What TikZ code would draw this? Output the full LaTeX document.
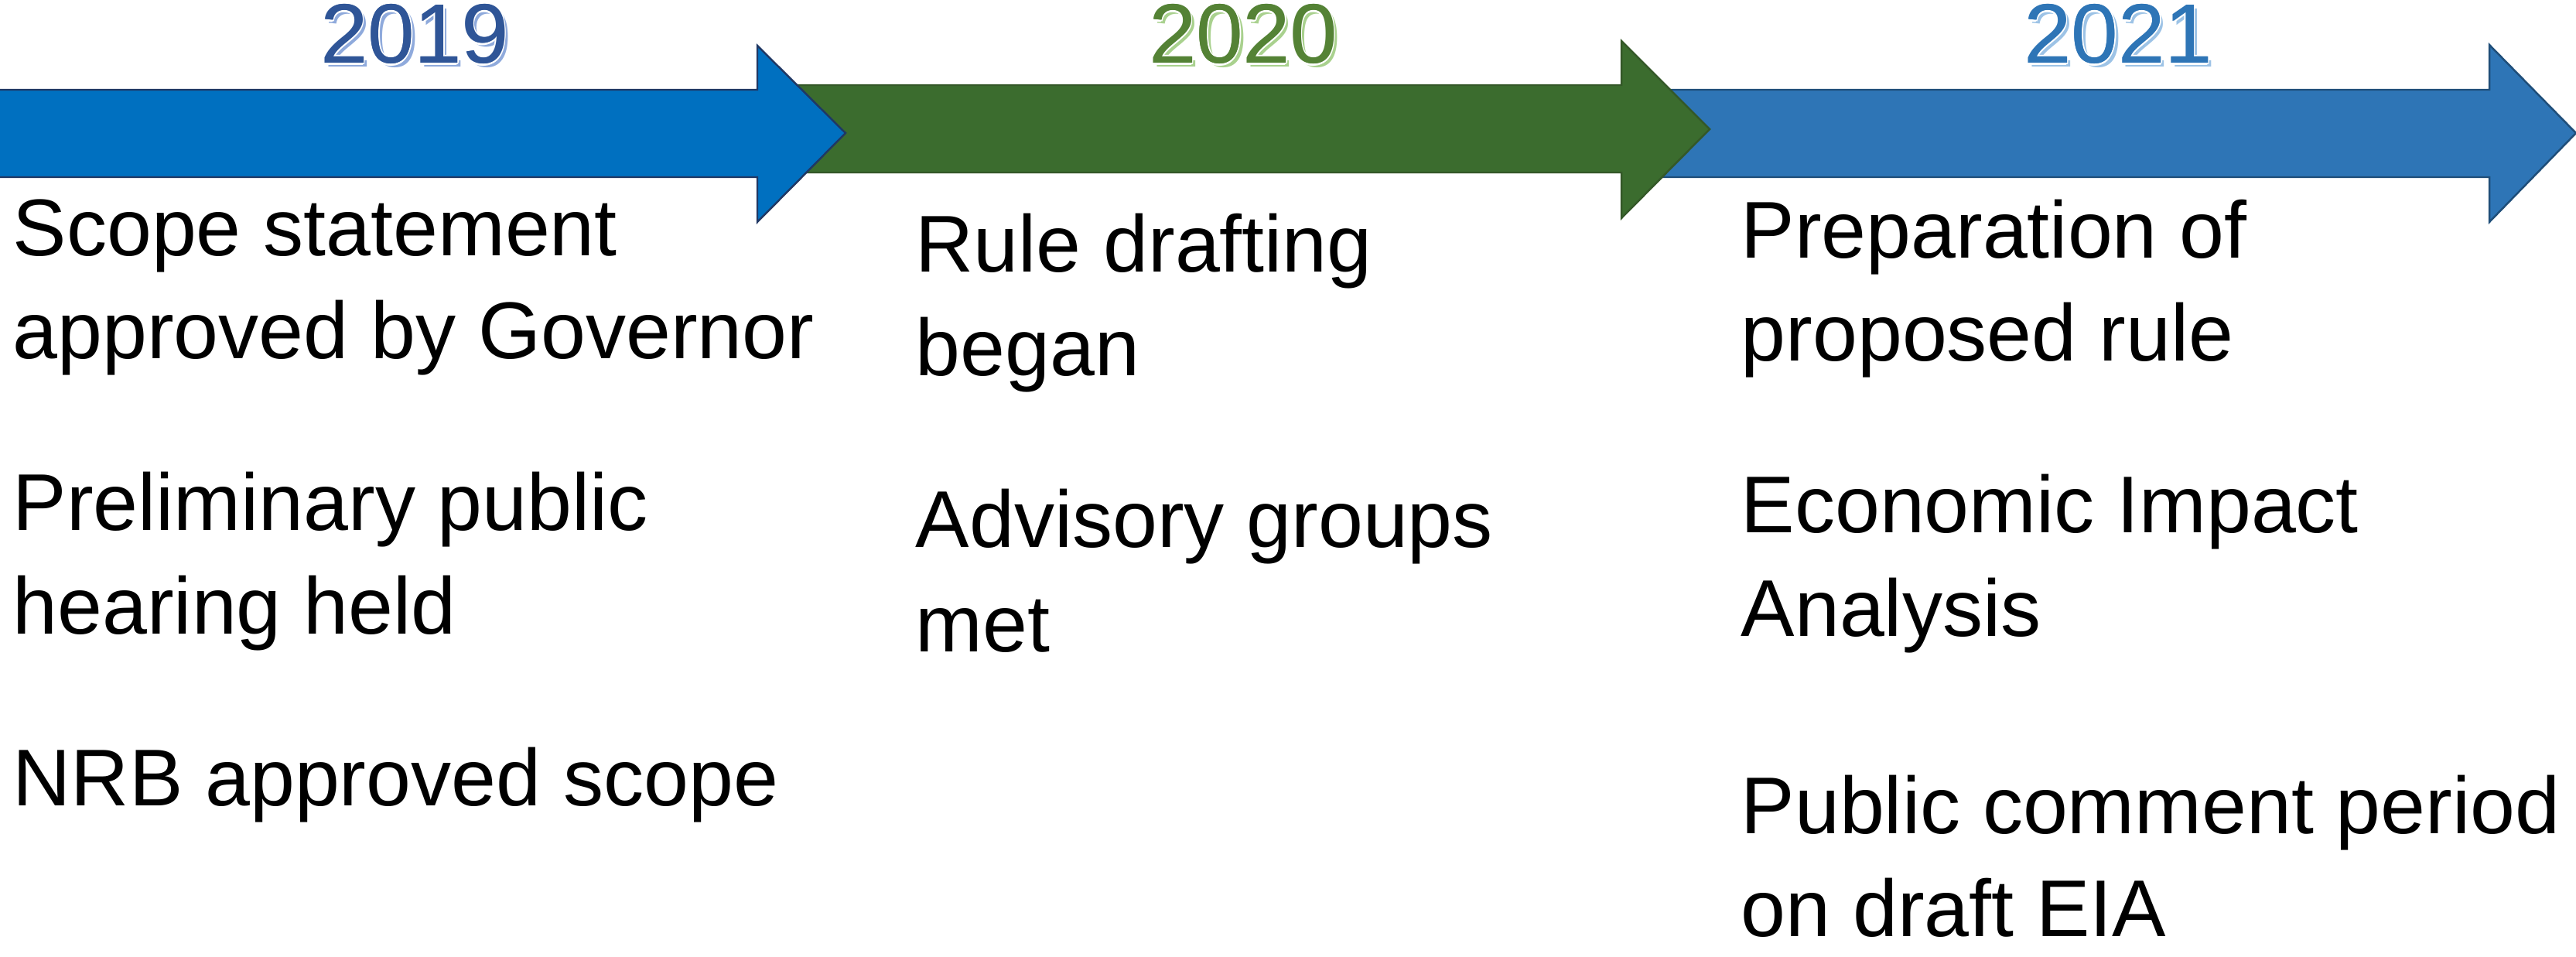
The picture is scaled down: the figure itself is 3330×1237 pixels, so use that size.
\documentclass[tikz,border=0pt]{standalone}
\usepackage{fontspec}
\setmainfont{Liberation Sans}
\definecolor{arrOneFill}{RGB}{0,112,192}
\definecolor{arrOneLine}{RGB}{32,56,100}
\definecolor{arrTwoFill}{RGB}{59,108,46}
\definecolor{arrTwoLine}{RGB}{52,88,40}
\definecolor{arrThreeFill}{RGB}{46,117,182}
\definecolor{arrThreeLine}{RGB}{31,78,121}
\definecolor{yrOne}{RGB}{47,85,151}
\definecolor{yrOneSh}{RGB}{143,170,220}
\definecolor{yrTwo}{RGB}{84,130,53}
\definecolor{yrTwoSh}{RGB}{169,209,142}
\definecolor{yrThree}{RGB}{46,117,182}
\definecolor{yrThreeSh}{RGB}{157,195,230}
\tikzset{
  arrowshape/.style={line width=0.7pt, line join=miter},
  yeartxt/.style={font=\fontsize{31}{36}\selectfont, anchor=base, inner sep=0pt},
  bodytxt/.style={font=\fontsize{29.6}{35}\selectfont, anchor=base west, inner sep=0pt, text=black}
}
\newcommand\yearlabel[5]{%
  \node[yeartxt, text=#5, xshift=1.4pt, yshift=-1.4pt] at (#2) {#3};
  \foreach \dx/\dy in {0.6/0, -0.6/0, 0/0.6, 0/-0.6, 0.45/0.45, 0.45/-0.45, -0.45/0.45, -0.45/-0.45}
    {\node[yeartxt, text=white, xshift=\dx pt, yshift=\dy pt] at (#2) {#3};}
  \node[yeartxt, text=#4, xshift=0.15pt] at (#2) {#3};
  \node[yeartxt, text=#4] (#1) at (#2) {#3};
}
\begin{document}
\begin{tikzpicture}[x=0.01cm, y=-0.01cm]
\useasboundingbox (0,0) rectangle (3330,1237);
% arrows (drawn back to front)
\draw[arrowshape, fill=arrThreeFill, draw=arrThreeLine]
  (2100,116) -- (3218,116) -- (3218,58) -- (3330,172) -- (3218,287) -- (3218,229) -- (2100,229) -- cycle;
\draw[arrowshape, fill=arrTwoFill, draw=arrTwoLine]
  (1000,110) -- (2096,110) -- (2096,53) -- (2210,167) -- (2096,282) -- (2096,223) -- (1000,223) -- cycle;
\draw[arrowshape, fill=arrOneFill, draw=arrOneLine]
  (-5,116) -- (979,116) -- (979,59) -- (1093,172) -- (979,287) -- (979,229) -- (-5,229) -- cycle;
% years
\coordinate (pa) at (536,82);
\coordinate (pb) at (1607,82);
\coordinate (pc) at (2738,82);
\yearlabel{ya}{pa}{2019}{yrOne}{yrOneSh}
\yearlabel{yb}{pb}{2020}{yrTwo}{yrTwoSh}
\yearlabel{yc}{pc}{2021}{yrThree}{yrThreeSh}
% column 1
\node[bodytxt] (a1) at (16,331) {Scope statement};
\node[bodytxt] (a2) at (16,464) {approved by Governor};
\node[bodytxt] (a3) at (16,686) {Preliminary public};
\node[bodytxt] (a4) at (16,819) {hearing held};
\node[bodytxt] (a5) at (16,1041) {NRB approved scope};
% column 2
\node[bodytxt] (b1) at (1183,352) {Rule drafting};
\node[bodytxt] (b2) at (1183,486) {began};
\node[bodytxt] (b3) at (1183,708) {Advisory groups};
\node[bodytxt] (b4) at (1183,842) {met};
% column 3
\node[bodytxt] (c1) at (2250,334) {Preparation of};
\node[bodytxt] (c2) at (2250,467) {proposed rule};
\node[bodytxt] (c3) at (2250,689) {Economic Impact};
\node[bodytxt] (c4) at (2250,822) {Analysis};
\node[bodytxt] (c5) at (2250,1077) {Public comment period};
\node[bodytxt] (c6) at (2250,1210) {on draft EIA};
\end{tikzpicture}
\end{document}
